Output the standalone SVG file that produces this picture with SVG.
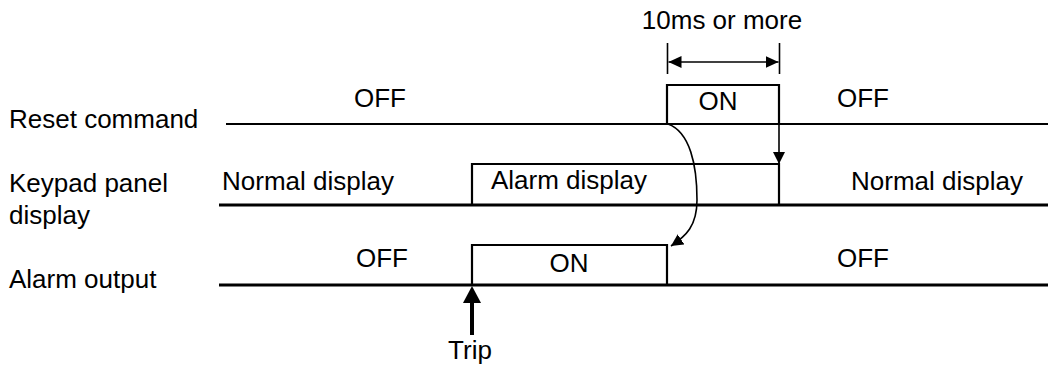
<svg xmlns="http://www.w3.org/2000/svg" width="1050" height="367" viewBox="0 0 1050 367">
<style>
text{font-family:"Liberation Sans",Arial,sans-serif;font-size:26px;fill:#000}
.sig{fill:none;stroke:#000;stroke-width:2.2;stroke-linejoin:miter}
.base{fill:none;stroke:#000;stroke-width:2.8}
.thin{fill:none;stroke:#000;stroke-width:1.6}
</style>
<defs>
<marker id="ah" viewBox="0 0 12 12" refX="12" refY="6" markerWidth="12" markerHeight="12" markerUnits="userSpaceOnUse" orient="auto-start-reverse">
<path d="M0,0 L12,6 L0,12 Z" fill="#000"/>
</marker>
<marker id="ah2" viewBox="0 0 13 12" refX="13" refY="6" markerWidth="13" markerHeight="12" markerUnits="userSpaceOnUse" orient="auto-start-reverse">
<path d="M0,0 L13,6 L0,12 Z" fill="#000"/>
</marker>
</defs>
<g id="labels">
<text x="9" y="128">Reset command</text>
<text x="9" y="192">Keypad panel</text>
<text x="9" y="224">display</text>
<text x="9" y="288">Alarm output</text>
</g>
<g id="reset">
<path class="sig" d="M226,124 H667 V85 H779 V124"/>
<line class="sig" x1="667" y1="124" x2="1048" y2="124"/>
<text x="354" y="107">OFF</text>
<text x="718" y="110" text-anchor="middle">ON</text>
<text x="837" y="107">OFF</text>
</g>
<g id="keypad">
<path class="sig" d="M472,205 V164 H779 V205"/>
<line class="base" x1="219" y1="205" x2="1048" y2="205"/>
<text x="222" y="190">Normal display</text>
<text x="491" y="189">Alarm display</text>
<text x="851" y="190">Normal display</text>
</g>
<g id="alarm">
<path class="sig" d="M472,285 V245 H667 V285"/>
<line class="base" x1="219" y1="285" x2="1048" y2="285"/>
<text x="356" y="267">OFF</text>
<text x="569" y="272" text-anchor="middle">ON</text>
<text x="837" y="267">OFF</text>
</g>
<g id="dimension">
<line class="thin" x1="667.5" y1="43" x2="667.5" y2="74"/>
<line class="thin" x1="779.5" y1="43" x2="779.5" y2="74"/>
<line class="thin" x1="668.5" y1="62" x2="778.5" y2="62" marker-start="url(#ah2)" marker-end="url(#ah2)"/>
<text x="722" y="29" text-anchor="middle">10ms or more</text>
</g>
<g id="trip">
<rect x="470" y="302" width="4" height="33" fill="#000"/>
<path d="M472,286 L481,303 L463,303 Z" fill="#000"/>
<text x="470" y="359" text-anchor="middle">Trip</text>
</g>
<g id="connectors">
<line class="thin" x1="779" y1="124" x2="779" y2="164" marker-end="url(#ah)"/>
<path class="thin" d="M668,124 C690,132 697,165 697,200 C697,226 686,236 671,246" marker-end="url(#ah)"/>
</g>
</svg>
